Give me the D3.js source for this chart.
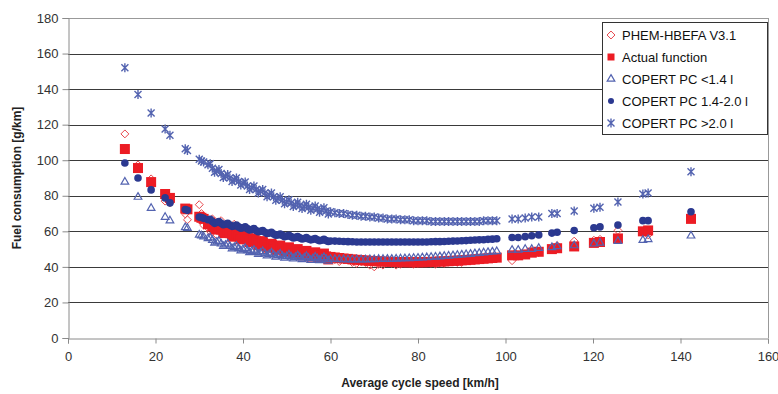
<!DOCTYPE html>
<html>
<head>
<meta charset="utf-8">
<script src="https://cdn.jsdelivr.net/npm/d3@7"></script>
<style>
  body { margin: 0; background: #fff; }
  svg { display: block; font-family: "Liberation Sans", Arial, sans-serif; }
</style>
</head>
<body>
<div id="chart"></div>
<script>
// average cycle speed [km/h], shared by every series
const speeds = [13.0, 16.0, 19.0, 22.2, 23.3, 26.8, 27.3, 30.0, 30.5, 31.0,
  32, 32.5, 33, 33.5, 34, 34.5, 35, 35.5, 36, 36.5, 37, 37.5, 38, 38.5, 39, 39.5,
  40, 40.5, 41, 41.5, 42, 42.5, 43, 43.5, 44, 44.5, 45, 45.5, 46, 46.5, 47, 47.5,
  48, 48.5, 49, 49.5, 50, 50.5, 51, 51.5, 52, 52.5, 53, 53.5, 54, 54.5, 55, 55.5,
  56, 56.5, 57, 57.5, 58, 58.5, 59, 59.5,
  60, 61, 62, 63, 64, 65, 66, 67, 68, 69, 70, 71, 72, 73, 74, 75, 76, 77, 78, 79,
  80, 81, 82, 83, 84, 85, 86, 87, 88, 89, 90, 91, 92, 93, 94, 95, 96, 97, 98,
  101.5, 102.9, 104.5, 106, 107.6, 110.6, 111.8, 115.7, 120.2, 121.6, 125.7, 131.4, 132.6, 142.4];

// fuel consumption [g/km]
const phem = [114.8, 97.4, 89.5, 77, 76, 69.8, 66.5, 75, 70, 63.5,
  62, 60, 67, 64, 58, 61, 66, 62, 60, 58, 57, 61, 64, 56, 55, 59,
  60, 55, 54, 57.5, 57, 53.5, 52, 56, 55, 52, 51, 54, 53, 50.5, 49, 53,
  52, 49.5, 48, 51, 50, 48, 47, 50, 49, 47.5, 46.5, 49, 48, 46, 45.5, 48,
  47, 45, 44.5, 47, 46, 44.5, 44, 46,
  45, 44, 43, 44.5, 44, 42.5, 42, 43, 42.5, 41, 40, 41.5, 41, 42.5, 42, 41, 41.5, 43, 42.5, 41.5,
  42, 43, 43, 42, 41.5, 42.5, 42, 43.5, 43, 42.5, 42.5, 44, 43.5, 44.5, 44, 45, 44.5, 45.5, 45,
  43.5, 46, 47, 49, 48, 51, 52, 54.5, 55, 55.5, 60.5, 59, 58, 68];

const actual = [106.3, 95.6, 87.7, 81, 78.8, 72.8, 72.4, 68.2, 67.6, 67,
  64, 65, 63, 61, 62, 63, 61, 59, 60, 61, 59, 57, 58, 59, 57.2, 55.5,
  56.4, 57.5, 55.6, 54, 54.8, 56, 54, 52.2, 53.3, 54.5, 52.6, 50.8, 52, 53, 51.4, 49.6,
  50.8, 52, 50.2, 48.5, 49.7, 51, 49.2, 47.5, 48.7, 50, 48.2, 46.5, 47.8, 49, 47.4, 45.8,
  47, 48.2, 46.6, 45, 46.2, 47.5, 45.9, 44.2,
  45.6, 45.3, 45, 44.7, 44.5, 44.2, 44, 43.8, 43.6, 43.4, 43.3, 43.1, 43, 42.9, 42.8, 42.7, 42.7, 42.6, 42.6, 42.6,
  42.6, 42.6, 42.7, 42.8, 42.9, 43, 43.1, 43.2, 43.4, 43.5, 43.7, 43.8, 44, 44.2, 44.4, 44.6, 44.8, 45, 45.2,
  46.5, 46.5, 47, 48, 48.5, 50, 50.5, 51.5, 53.5, 54, 56, 60, 60.5, 67];

const copertSmall = [87.8, 79.3, 73, 68, 66, 62.2, 61.8, 58, 57.6, 57,
  56, 56.5, 55, 53.5, 54, 54.5, 53, 51.6, 52.3, 53, 51.6, 50.3, 51, 51.7, 50.4, 49.1,
  49.8, 50.5, 49.3, 48.1, 48.8, 49.5, 48.3, 47.1, 47.9, 48.7, 47.5, 46.3, 47.1, 47.9, 46.8, 45.6,
  46.5, 47.3, 46.2, 45.1, 45.9, 46.8, 45.7, 44.6, 45.5, 46.4, 45.3, 44.2, 45.1, 46, 44.9, 43.8,
  44.7, 45.6, 44.6, 43.6, 44.5, 45.4, 44.4, 43.4,
  44.3, 44.3, 44.2, 44.2, 44.1, 44.1, 44.1, 44.1, 44.1, 44.2, 44.2, 44.3, 44.3, 44.4, 44.4, 44.5, 44.6, 44.7, 44.8, 44.9,
  45, 45.2, 45.3, 45.5, 45.6, 45.8, 46, 46.2, 46.4, 46.6, 46.8, 47, 47.2, 47.5, 47.7, 48, 48.2, 48.5, 48.7,
  49.5, 49.5, 50, 50, 50.5, 51, 51.5, 52, 53, 53.5, 54.5, 55, 55.5, 57.5];

const copertMid = [98.4, 90, 83.3, 78.8, 76, 72.3, 71.8, 68, 67.8, 67.3,
  66.5, 66.8, 65.5, 64.5, 65, 65.5, 64.5, 63.7, 64, 64.5, 63.5, 62.8, 63, 63.5, 62.5, 61.8,
  62, 62.5, 61.5, 60.8, 61, 61.5, 60.5, 59.8, 60, 60.5, 59.5, 58.8, 59, 59.5, 58.5, 57.8,
  58, 58.5, 57.7, 57, 57.3, 57.8, 57, 56.3, 56.6, 57, 56.3, 55.7, 56, 56.5, 55.7, 55.2,
  55.5, 56, 55.2, 54.7, 55, 55.5, 54.8, 54.3,
  54.6, 54.5, 54.4, 54.3, 54.2, 54.1, 54, 54, 54, 54, 54, 54, 54, 54, 54, 54, 54, 54, 54, 54,
  54, 54, 54, 54.1, 54.2, 54.2, 54.3, 54.4, 54.5, 54.6, 54.7, 54.8, 55, 55.1, 55.2, 55.3, 55.5, 55.6, 55.8,
  56.5, 56.5, 57, 57.5, 58, 59, 59.5, 60.5, 62, 62.5, 63.5, 66, 66, 71];

const copertLarge = [152, 137, 126.5, 117.5, 114, 106.5, 105.5, 100.5, 99.5, 99,
  97.5, 98, 95.5, 93.3, 94, 94.8, 92.5, 90.3, 91, 92, 90, 88, 89, 90, 88, 86,
  87, 87.8, 85.5, 83.5, 84.5, 85.5, 83.5, 81.5, 82.5, 83.5, 81.5, 79.5, 80.5, 81.5, 79.5, 77.5,
  78.5, 79.5, 77.5, 75.5, 76.5, 77.8, 76, 74, 75, 76.3, 74.5, 72.8, 74, 75.3, 73.5, 71.8,
  73, 74.3, 72.5, 70.8, 72, 73.3, 71.5, 69.8,
  71, 70.5, 70, 70, 69.5, 69, 69, 68.5, 68.5, 68, 68, 67.5, 67.5, 67, 67, 67, 66.5, 66.5, 66.5, 66,
  66, 66, 66, 65.5, 65.5, 65.5, 65.5, 65.5, 65.5, 65.5, 65.5, 65.5, 65.5, 65.5, 65.5, 66, 66, 66, 66,
  67, 67, 67.5, 68, 68, 70, 70, 71.5, 73, 73.5, 76.5, 81, 81.5, 93.5];

const seriesNames = ["PHEM-HBEFA V3.1", "Actual function", "COPERT PC <1.4 l",
  "COPERT PC 1.4-2.0 l", "COPERT PC >2.0 l"];
const xTicks = [0, 20, 40, 60, 80, 100, 120, 140, 160];
const yTicks = [0, 20, 40, 60, 80, 100, 120, 140, 160, 180];

const width = 778, height = 394;
const margin = {left: 68, right: 10, top: 18, bottom: 56};

const svg = d3.select("#chart").append("svg")
  .attr("width", width)
  .attr("height", height);

const x = d3.scaleLinear().domain([0, 160]).range([margin.left, width - margin.right]);
const y = d3.scaleLinear().domain([0, 180]).range([height - margin.bottom, margin.top]);

// gridlines
svg.append("g")
  .selectAll("line")
  .data(yTicks.filter(d => d > 0))
  .join("line")
  .attr("x1", x(0)).attr("x2", x(160))
  .attr("y1", d => Math.round(y(d)) + 0.5).attr("y2", d => Math.round(y(d)) + 0.5)
  .attr("stroke", d => d === 180 ? "#999" : "#3a3a3a")
  .attr("stroke-width", 1);

// right border of the plot
svg.append("line")
  .attr("x1", Math.round(x(160)) + 0.5).attr("x2", Math.round(x(160)) + 0.5)
  .attr("y1", y(180)).attr("y2", y(0))
  .attr("stroke", "#999");

const xAxis = svg.append("g")
  .attr("transform", `translate(0,${Math.round(y(0)) + 0.5})`)
  .call(d3.axisBottom(x).tickValues(xTicks).tickSize(5).tickPadding(6));
const yAxis = svg.append("g")
  .attr("transform", `translate(${Math.round(x(0)) + 0.5},0)`)
  .call(d3.axisLeft(y).tickValues(yTicks).tickSize(6).tickPadding(4));

[xAxis, yAxis].forEach(a => {
  a.select(".domain").attr("stroke", "#8a8a8a");
  a.selectAll(".tick line").attr("stroke", "#8a8a8a");
  a.selectAll(".tick text")
    .attr("fill", "#333")
    .attr("font-size", 13)
    .attr("font-family", "Liberation Sans, Arial, sans-serif");
});
xAxis.selectAll(".tick text").attr("dy", "0.9em");

svg.append("text")
  .attr("x", (x(0) + x(160)) / 2 + 2)
  .attr("y", 387)
  .attr("text-anchor", "middle")
  .attr("font-size", 12)
  .attr("font-weight", "bold")
  .attr("fill", "#222")
  .text("Average cycle speed [km/h]");

svg.append("text")
  .attr("transform", `translate(21,${(y(0) + y(180)) / 2}) rotate(-90)`)
  .attr("text-anchor", "middle")
  .attr("font-size", 12)
  .attr("font-weight", "bold")
  .attr("fill", "#222")
  .text("Fuel consumption [g/km]");

// marker drawers
const red = "#ec1c24", navy = "#2b3990", blue = "#5363b0";
const markers = [
  (g) => g.append("path").attr("d", d3.symbol(d3.symbolDiamond2, 40)())
          .attr("fill", "none").attr("stroke", "#e8474c").attr("stroke-width", 1),
  (g) => g.append("rect").attr("x", -5).attr("y", -5).attr("width", 10).attr("height", 10)
          .attr("fill", red),
  (g) => g.append("path").attr("d", d3.symbol(d3.symbolTriangle2, 42)())
          .attr("fill", "none").attr("stroke", blue).attr("stroke-width", 1.2),
  (g) => g.append("circle").attr("r", 3.8).attr("fill", navy),
  (g) => g.append("path").attr("d", "M-3.5,-3.5L3.5,3.5M-3.5,3.5L3.5,-3.5M0,-4.5V4.5")
          .attr("stroke", blue).attr("stroke-width", 1.4)
];

const allSeries = [phem, actual, copertSmall, copertMid, copertLarge];

const plot = svg.append("g");
allSeries.forEach((vals, si) => {
  const pts = speeds.map((s, i) => ({s, v: vals[i]}));
  plot.append("g").selectAll("g")
    .data(pts)
    .join("g")
    .attr("transform", d => `translate(${x(d.s)},${y(d.v)})`)
    .each(function() { markers[si](d3.select(this)); });
});

// legend
const lg = svg.append("g").attr("transform", "translate(602,22)");
lg.append("rect")
  .attr("x", 0.5).attr("y", 0.5).attr("width", 165).attr("height", 112)
  .attr("fill", "#fff").attr("stroke", "#333");
seriesNames.forEach((name, i) => {
  const row = lg.append("g").attr("transform", `translate(9,${13 + i * 22})`);
  const m = row.append("g");
  markers[i](m);
  if (i === 1) m.select("rect").attr("x", -3.5).attr("y", -3.5).attr("width", 7).attr("height", 7);
  if (i === 3) m.select("circle").attr("r", 3);
  row.append("text")
    .attr("x", 11).attr("y", 0).attr("dy", "0.35em")
    .attr("font-size", 13).attr("fill", "#111")
    .text(name);
});
</script>
</body>
</html>
